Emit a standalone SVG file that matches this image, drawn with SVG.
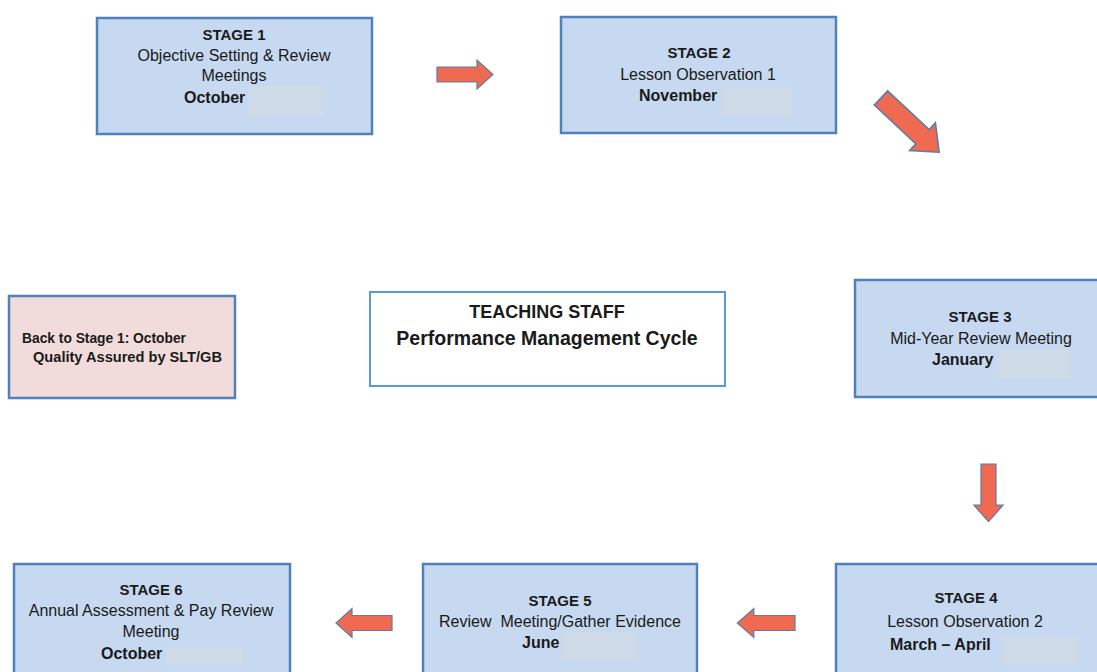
<svg xmlns="http://www.w3.org/2000/svg" width="1097" height="672" viewBox="0 0 1097 672">
<defs>
<style>
.box{fill:#c6d9f0;stroke:#4f81bd;stroke-width:2.5}
.pink{fill:#f2dcdb;stroke:#4f81bd;stroke-width:2.5}
.title{fill:#ffffff;stroke:#5b9bd5;stroke-width:2}
.blank{fill:#cfdae9}
.arrow{fill:#ef6a50;stroke:#5a7ea6;stroke-width:1.2}
text{font-family:"Liberation Sans",Arial,sans-serif;fill:#1a1a1a}
.h{font-size:15px;font-weight:bold;text-anchor:middle}
.t{font-size:16px;text-anchor:middle}
.l{font-size:16px;font-weight:bold;text-anchor:start}
.s{font-size:14px;font-weight:bold}
.c1{font-size:18px;font-weight:bold;text-anchor:middle}
.c2{font-size:19.5px;font-weight:bold;text-anchor:middle}
</style>
<path id="rarrow" d="M0,-7.5 H40 V-14.5 L56,0 L40,14.5 V7.5 H0 Z"/>
</defs>
<rect width="1097" height="672" fill="#ffffff"/>

<g id="stage1">
<rect class="box" x="97" y="18" width="275" height="116"/>
<rect class="blank" x="248" y="86" width="76" height="29"/>
<text class="h" x="234" y="40">STAGE 1</text>
<text class="t" x="234" y="61">Objective Setting &amp; Review</text>
<text class="t" x="234" y="81">Meetings</text>
<text class="l" x="184" y="103">October</text>
</g>

<g id="stage2">
<rect class="box" x="561" y="17" width="275" height="116"/>
<rect class="blank" x="721" y="87" width="71" height="28"/>
<text class="h" x="699" y="58">STAGE 2</text>
<text class="t" x="698" y="80">Lesson Observation 1</text>
<text class="l" x="639" y="101">November</text>
</g>

<g id="stage3">
<rect class="box" x="855" y="280" width="250" height="117"/>
<rect class="blank" x="996" y="350" width="75" height="28"/>
<text class="h" x="980" y="322">STAGE 3</text>
<text class="t" x="981" y="344">Mid-Year Review Meeting</text>
<text class="l" x="932" y="365">January</text>
</g>

<g id="stage4">
<rect class="box" x="836" y="564" width="270" height="120"/>
<rect class="blank" x="1002" y="637" width="77" height="28"/>
<text class="h" x="966" y="603">STAGE 4</text>
<text class="t" x="965" y="627">Lesson Observation 2</text>
<text class="l" x="890" y="650">March – April</text>
</g>

<g id="stage5">
<rect class="box" x="423" y="564" width="274" height="120"/>
<rect class="blank" x="561" y="632" width="77" height="29"/>
<text class="h" x="560" y="606">STAGE 5</text>
<text class="t" x="560" y="627" xml:space="preserve">Review  Meeting/Gather Evidence</text>
<text class="l" x="522" y="648">June</text>
</g>

<g id="stage6">
<rect class="box" x="14" y="564" width="276" height="120"/>
<rect class="blank" x="166" y="647" width="77" height="18"/>
<text class="h" x="151" y="595">STAGE 6</text>
<text class="t" x="151" y="616">Annual Assessment &amp; Pay Review</text>
<text class="t" x="151" y="637">Meeting</text>
<text class="l" x="101" y="659">October</text>
</g>

<g id="back">
<rect class="pink" x="9" y="296" width="226" height="102"/>
<text class="s" x="22" y="343" textLength="164" lengthAdjust="spacingAndGlyphs">Back to Stage 1: October</text>
<text class="s" x="33" y="362" textLength="189" lengthAdjust="spacingAndGlyphs">Quality Assured by SLT/GB</text>
</g>

<g id="title">
<rect class="title" x="370" y="292" width="355" height="94"/>
<text class="c1" x="547" y="318">TEACHING STAFF</text>
<text class="c2" x="547" y="345">Performance Management Cycle</text>
</g>

<g id="connectors">
<use href="#rarrow" class="arrow" transform="translate(437,74.5)"/>
<use href="#rarrow" class="arrow" transform="translate(881,98) rotate(43) scale(1.42,1.3)"/>
<use href="#rarrow" class="arrow" transform="translate(988.5,464) rotate(90) scale(1.03,1)"/>
<use href="#rarrow" class="arrow" transform="translate(392,623) rotate(180)"/>
<use href="#rarrow" class="arrow" transform="translate(795,623) rotate(180) scale(1.03,1)"/>
</g>
</svg>
